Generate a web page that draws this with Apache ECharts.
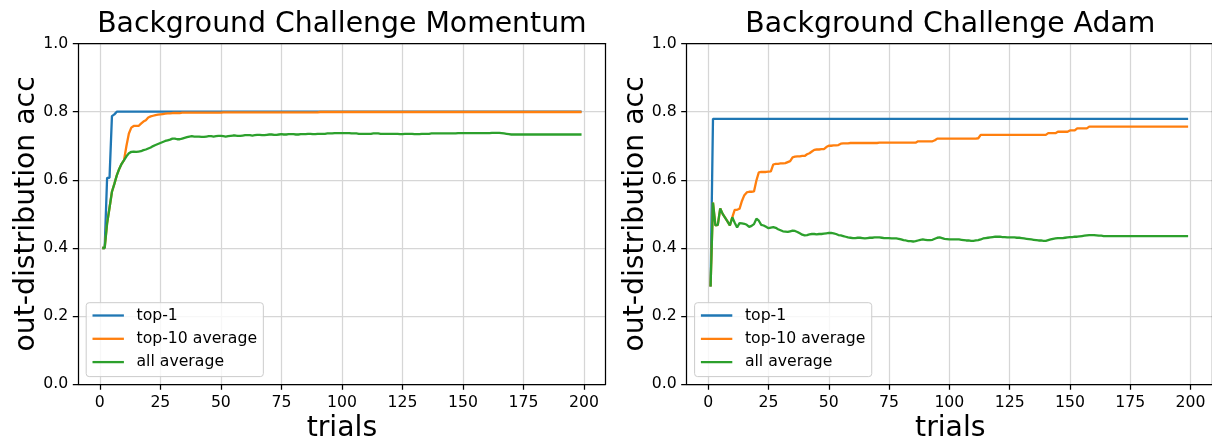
<!DOCTYPE html>
<html>
<head>
<meta charset="utf-8">
<script src="https://cdn.jsdelivr.net/npm/echarts@6/dist/echarts.min.js"></script>
<style>
  html, body { margin: 0; padding: 0; background: #ffffff; }
  #chart { width: 1212px; height: 440px; }
</style>
</head>
<body>
<div id="chart"></div>
<script>
// Trial numbers (x) shared by every curve
const trials = Array.from({ length: 199 }, (_, i) => i + 1);

// Tick values
const xTicks = [0, 25, 50, 75, 100, 125, 150, 175, 200];
const yTicks = [0, 0.2, 0.4, 0.6, 0.8, 1.0];

const seriesNames = ['top-1', 'top-10 average', 'all average'];
const panelTitles = ['Background Challenge Momentum', 'Background Challenge Adam'];

// ---- Momentum ----
const momentumTop1 = [
  0.400, 0.400, 0.606, 0.606, 0.787, 0.792, 0.800, 0.800, 0.800, 0.800,
  0.800, 0.800, 0.800, 0.800, 0.800, 0.800, 0.800, 0.800, 0.800, 0.800,
  0.800, 0.800, 0.800, 0.800, 0.800, 0.800, 0.800, 0.800, 0.800, 0.800,
  0.800, 0.800, 0.800, 0.800, 0.800, 0.800, 0.800, 0.800, 0.800, 0.800,
  0.800, 0.800, 0.800, 0.800, 0.800, 0.800, 0.800, 0.800, 0.800, 0.800,
  0.800, 0.800, 0.800, 0.800, 0.800, 0.800, 0.800, 0.800, 0.800, 0.800,
  0.800, 0.800, 0.800, 0.800, 0.800, 0.800, 0.800, 0.800, 0.800, 0.800,
  0.800, 0.800, 0.800, 0.800, 0.800, 0.800, 0.800, 0.800, 0.800, 0.800,
  0.800, 0.800, 0.800, 0.800, 0.800, 0.800, 0.800, 0.800, 0.800, 0.800,
  0.800, 0.800, 0.800, 0.800, 0.800, 0.800, 0.800, 0.800, 0.800, 0.800,
  0.800, 0.800, 0.800, 0.800, 0.800, 0.800, 0.800, 0.800, 0.800, 0.800,
  0.800, 0.800, 0.800, 0.800, 0.800, 0.800, 0.800, 0.800, 0.800, 0.800,
  0.800, 0.800, 0.800, 0.800, 0.800, 0.800, 0.800, 0.800, 0.800, 0.800,
  0.800, 0.800, 0.800, 0.800, 0.800, 0.800, 0.800, 0.800, 0.800, 0.800,
  0.800, 0.800, 0.800, 0.800, 0.800, 0.800, 0.800, 0.800, 0.800, 0.800,
  0.800, 0.800, 0.800, 0.800, 0.800, 0.800, 0.800, 0.800, 0.800, 0.800,
  0.800, 0.800, 0.800, 0.800, 0.800, 0.800, 0.800, 0.800, 0.800, 0.800,
  0.800, 0.800, 0.800, 0.800, 0.800, 0.800, 0.800, 0.800, 0.800, 0.800,
  0.800, 0.800, 0.800, 0.800, 0.800, 0.800, 0.800, 0.800, 0.800, 0.800,
  0.800, 0.800, 0.800, 0.800, 0.800, 0.800, 0.800, 0.800, 0.800
];
const momentumTop10 = [
  0.400, 0.400, 0.472, 0.518, 0.565, 0.588, 0.613, 0.632, 0.647, 0.658,
  0.700, 0.736, 0.753, 0.758, 0.758, 0.758, 0.765, 0.771, 0.775, 0.783,
  0.786, 0.788, 0.790, 0.791, 0.792, 0.793, 0.794, 0.795, 0.795, 0.796,
  0.796, 0.796, 0.796, 0.797, 0.797, 0.797, 0.797, 0.797, 0.797, 0.797,
  0.797, 0.797, 0.797, 0.797, 0.797, 0.797, 0.797, 0.797, 0.797, 0.797,
  0.798, 0.798, 0.798, 0.798, 0.798, 0.798, 0.798, 0.798, 0.798, 0.798,
  0.798, 0.798, 0.798, 0.798, 0.798, 0.798, 0.798, 0.798, 0.798, 0.798,
  0.798, 0.798, 0.798, 0.798, 0.798, 0.798, 0.798, 0.798, 0.798, 0.798,
  0.798, 0.798, 0.798, 0.798, 0.798, 0.798, 0.798, 0.798, 0.798, 0.798,
  0.799, 0.799, 0.799, 0.799, 0.799, 0.799, 0.799, 0.799, 0.799, 0.799,
  0.799, 0.799, 0.799, 0.799, 0.799, 0.799, 0.799, 0.799, 0.799, 0.799,
  0.799, 0.799, 0.799, 0.799, 0.799, 0.799, 0.799, 0.799, 0.799, 0.799,
  0.799, 0.799, 0.799, 0.799, 0.799, 0.799, 0.799, 0.799, 0.799, 0.799,
  0.799, 0.799, 0.799, 0.799, 0.799, 0.799, 0.799, 0.799, 0.799, 0.799,
  0.799, 0.799, 0.799, 0.799, 0.799, 0.799, 0.799, 0.799, 0.799, 0.799,
  0.799, 0.799, 0.799, 0.799, 0.799, 0.799, 0.799, 0.799, 0.799, 0.799,
  0.799, 0.799, 0.799, 0.799, 0.799, 0.799, 0.799, 0.799, 0.799, 0.799,
  0.799, 0.799, 0.799, 0.799, 0.799, 0.799, 0.799, 0.799, 0.799, 0.799,
  0.799, 0.799, 0.799, 0.799, 0.799, 0.799, 0.799, 0.799, 0.799, 0.799,
  0.799, 0.799, 0.799, 0.799, 0.799, 0.799, 0.799, 0.799, 0.799
];
const momentumAll = [
  0.400, 0.400, 0.472, 0.518, 0.565, 0.588, 0.613, 0.632, 0.647, 0.658,
  0.669, 0.678, 0.682, 0.683, 0.682, 0.683, 0.684, 0.687, 0.689, 0.692,
  0.695, 0.699, 0.702, 0.705, 0.708, 0.711, 0.714, 0.716, 0.718, 0.721,
  0.721, 0.719, 0.719, 0.721, 0.723, 0.725, 0.727, 0.728, 0.727, 0.727,
  0.727, 0.726, 0.726, 0.727, 0.728, 0.728, 0.727, 0.728, 0.729, 0.729,
  0.728, 0.727, 0.728, 0.729, 0.730, 0.730, 0.729, 0.729, 0.730, 0.731,
  0.731, 0.731, 0.730, 0.731, 0.732, 0.732, 0.731, 0.731, 0.732, 0.733,
  0.733, 0.732, 0.732, 0.733, 0.734, 0.733, 0.733, 0.734, 0.734, 0.734,
  0.733, 0.733, 0.734, 0.734, 0.734, 0.735, 0.735, 0.734, 0.734, 0.735,
  0.735, 0.735, 0.735, 0.736, 0.736, 0.736, 0.737, 0.737, 0.737, 0.737,
  0.737, 0.737, 0.737, 0.736, 0.736, 0.736, 0.735, 0.735, 0.735, 0.735,
  0.735, 0.735, 0.736, 0.736, 0.736, 0.735, 0.735, 0.735, 0.735, 0.735,
  0.735, 0.735, 0.735, 0.734, 0.734, 0.735, 0.735, 0.735, 0.735, 0.734,
  0.734, 0.734, 0.735, 0.735, 0.735, 0.735, 0.736, 0.736, 0.736, 0.736,
  0.736, 0.736, 0.736, 0.736, 0.736, 0.736, 0.736, 0.737, 0.737, 0.737,
  0.737, 0.737, 0.737, 0.737, 0.737, 0.737, 0.737, 0.737, 0.737, 0.737,
  0.737, 0.738, 0.738, 0.738, 0.738, 0.737, 0.736, 0.735, 0.734, 0.733,
  0.733, 0.733, 0.733, 0.733, 0.733, 0.733, 0.733, 0.733, 0.733, 0.733,
  0.733, 0.733, 0.733, 0.733, 0.733, 0.733, 0.733, 0.733, 0.733, 0.733,
  0.733, 0.733, 0.733, 0.733, 0.733, 0.733, 0.733, 0.733, 0.733
];

// ---- Adam ----
const adamTop1 = [
  0.287, 0.779, 0.779, 0.779, 0.779, 0.779, 0.779, 0.779, 0.779, 0.779,
  0.779, 0.779, 0.779, 0.779, 0.779, 0.779, 0.779, 0.779, 0.779, 0.779,
  0.779, 0.779, 0.779, 0.779, 0.779, 0.779, 0.779, 0.779, 0.779, 0.779,
  0.779, 0.779, 0.779, 0.779, 0.779, 0.779, 0.779, 0.779, 0.779, 0.779,
  0.779, 0.779, 0.779, 0.779, 0.779, 0.779, 0.779, 0.779, 0.779, 0.779,
  0.779, 0.779, 0.779, 0.779, 0.779, 0.779, 0.779, 0.779, 0.779, 0.779,
  0.779, 0.779, 0.779, 0.779, 0.779, 0.779, 0.779, 0.779, 0.779, 0.779,
  0.779, 0.779, 0.779, 0.779, 0.779, 0.779, 0.779, 0.779, 0.779, 0.779,
  0.779, 0.779, 0.779, 0.779, 0.779, 0.779, 0.779, 0.779, 0.779, 0.779,
  0.779, 0.779, 0.779, 0.779, 0.779, 0.779, 0.779, 0.779, 0.779, 0.779,
  0.779, 0.779, 0.779, 0.779, 0.779, 0.779, 0.779, 0.779, 0.779, 0.779,
  0.779, 0.779, 0.779, 0.779, 0.779, 0.779, 0.779, 0.779, 0.779, 0.779,
  0.779, 0.779, 0.779, 0.779, 0.779, 0.779, 0.779, 0.779, 0.779, 0.779,
  0.779, 0.779, 0.779, 0.779, 0.779, 0.779, 0.779, 0.779, 0.779, 0.779,
  0.779, 0.779, 0.779, 0.779, 0.779, 0.779, 0.779, 0.779, 0.779, 0.779,
  0.779, 0.779, 0.779, 0.779, 0.779, 0.779, 0.779, 0.779, 0.779, 0.779,
  0.779, 0.779, 0.779, 0.779, 0.779, 0.779, 0.779, 0.779, 0.779, 0.779,
  0.779, 0.779, 0.779, 0.779, 0.779, 0.779, 0.779, 0.779, 0.779, 0.779,
  0.779, 0.779, 0.779, 0.779, 0.779, 0.779, 0.779, 0.779, 0.779, 0.779,
  0.779, 0.779, 0.779, 0.779, 0.779, 0.779, 0.779, 0.779, 0.779
];
const adamTop10 = [
  0.287, 0.533, 0.466, 0.468, 0.516, 0.500, 0.489, 0.478, 0.466, 0.490,
  0.512, 0.512, 0.515, 0.538, 0.555, 0.563, 0.565, 0.565, 0.566, 0.598,
  0.622, 0.623, 0.623, 0.623, 0.624, 0.625, 0.645, 0.647, 0.647, 0.648,
  0.648, 0.649, 0.652, 0.655, 0.666, 0.668, 0.669, 0.669, 0.670, 0.670,
  0.675, 0.678, 0.683, 0.688, 0.689, 0.689, 0.690, 0.690, 0.696, 0.700,
  0.700, 0.701, 0.701, 0.702, 0.706, 0.707, 0.707, 0.707, 0.708, 0.708,
  0.708, 0.708, 0.708, 0.708, 0.708, 0.708, 0.708, 0.708, 0.708, 0.708,
  0.709, 0.709, 0.709, 0.709, 0.709, 0.709, 0.709, 0.709, 0.709, 0.709,
  0.709, 0.709, 0.709, 0.709, 0.709, 0.709, 0.713, 0.713, 0.713, 0.713,
  0.713, 0.713, 0.713, 0.716, 0.721, 0.721, 0.721, 0.721, 0.721, 0.721,
  0.721, 0.721, 0.721, 0.721, 0.721, 0.721, 0.721, 0.721, 0.721, 0.721,
  0.721, 0.722, 0.732, 0.732, 0.732, 0.732, 0.732, 0.732, 0.732, 0.732,
  0.732, 0.732, 0.732, 0.732, 0.732, 0.732, 0.732, 0.732, 0.732, 0.732,
  0.732, 0.732, 0.732, 0.732, 0.732, 0.732, 0.732, 0.732, 0.732, 0.732,
  0.737, 0.737, 0.737, 0.737, 0.741, 0.741, 0.741, 0.741, 0.741, 0.745,
  0.745, 0.745, 0.751, 0.751, 0.751, 0.751, 0.751, 0.756, 0.756, 0.756,
  0.756, 0.756, 0.756, 0.756, 0.756, 0.756, 0.756, 0.756, 0.756, 0.756,
  0.756, 0.756, 0.756, 0.756, 0.756, 0.756, 0.756, 0.756, 0.756, 0.756,
  0.756, 0.756, 0.756, 0.756, 0.756, 0.756, 0.756, 0.756, 0.756, 0.756,
  0.756, 0.756, 0.756, 0.756, 0.756, 0.756, 0.756, 0.756, 0.756
];
const adamAll = [
  0.287, 0.533, 0.466, 0.468, 0.516, 0.500, 0.489, 0.478, 0.466, 0.490,
  0.474, 0.460, 0.473, 0.472, 0.471, 0.468, 0.462, 0.465, 0.470, 0.486,
  0.480, 0.468, 0.466, 0.462, 0.458, 0.460, 0.461, 0.459, 0.455, 0.452,
  0.449, 0.448, 0.447, 0.449, 0.451, 0.450, 0.447, 0.443, 0.439, 0.437,
  0.438, 0.440, 0.441, 0.441, 0.440, 0.441, 0.441, 0.442, 0.443, 0.444,
  0.444, 0.443, 0.441, 0.438, 0.437, 0.435, 0.433, 0.431, 0.430, 0.429,
  0.429, 0.430, 0.430, 0.429, 0.428, 0.429, 0.430, 0.430, 0.431, 0.431,
  0.431, 0.430, 0.429, 0.429, 0.429, 0.428, 0.428, 0.428, 0.427, 0.425,
  0.423, 0.422, 0.420, 0.420, 0.419, 0.420, 0.422, 0.424, 0.425, 0.424,
  0.423, 0.423, 0.424, 0.427, 0.430, 0.431, 0.429, 0.427, 0.426, 0.425,
  0.425, 0.425, 0.425, 0.425, 0.424, 0.423, 0.422, 0.422, 0.421, 0.421,
  0.422, 0.423, 0.425, 0.428, 0.429, 0.430, 0.431, 0.432, 0.433, 0.433,
  0.433, 0.432, 0.432, 0.431, 0.431, 0.431, 0.431, 0.430, 0.430, 0.429,
  0.428, 0.427, 0.426, 0.425, 0.424, 0.423, 0.422, 0.422, 0.421, 0.421,
  0.423, 0.425, 0.427, 0.428, 0.429, 0.429, 0.429, 0.430, 0.431, 0.432,
  0.432, 0.433, 0.433, 0.434, 0.435, 0.436, 0.437, 0.438, 0.438, 0.438,
  0.437, 0.436, 0.436, 0.435, 0.435, 0.435, 0.435, 0.435, 0.435, 0.435,
  0.435, 0.435, 0.435, 0.435, 0.435, 0.435, 0.435, 0.435, 0.435, 0.435,
  0.435, 0.435, 0.435, 0.435, 0.435, 0.435, 0.435, 0.435, 0.435, 0.435,
  0.435, 0.435, 0.435, 0.435, 0.435, 0.435, 0.435, 0.435, 0.435
];

const panels = [
  [momentumTop1, momentumTop10, momentumAll],
  [adamTop1, adamTop10, adamAll]
];

const colors = ['#1f77b4', '#ff7f0e', '#2ca02c'];
const FONT = 'DejaVu Sans';
const TICK_FONT = 15.7;
const LABEL_FONT = 28.3;
const X_MIN = -8.9, X_MAX = 208.9;

// Axes boxes in pixels
const plotTop = 43.5, plotH = 340.8, plotW = 527.2;
const plotLefts = [78.3, 686.7];

const grids = [], xAxes = [], yAxes = [], series = [], legends = [], graphics = [];

plotLefts.forEach((left, g) => {
  grids.push({ left: left, top: plotTop, width: plotW, height: plotH, containLabel: false });

  const xBase = xAxes.length;
  const yBase = yAxes.length;

  // main x axis: ticks, labels, vertical grid lines
  xAxes.push({
    gridIndex: g, type: 'value', position: 'bottom', min: X_MIN, max: X_MAX, z: 0,
    axisLine: { show: false, onZero: false },
    axisTick: { show: true, customValues: xTicks, length: 5.5, lineStyle: { color: '#000', width: 1.25 } },
    axisLabel: { show: true, customValues: xTicks, margin: 10.5, fontSize: TICK_FONT, fontFamily: FONT, color: '#000' },
    splitLine: { show: true, lineStyle: { color: '#d6d6d6', width: 1.25 } }
  });
  // bottom and top spines
  ['bottom', 'top'].forEach(pos => {
    xAxes.push({
      gridIndex: g, type: 'value', position: pos, min: X_MIN, max: X_MAX, z: 5,
      axisLine: { show: true, onZero: false, lineStyle: { color: '#000', width: 1.25 } },
      axisTick: { show: false }, axisLabel: { show: false }, splitLine: { show: false }
    });
  });

  // main y axis: ticks, labels, horizontal grid lines
  yAxes.push({
    gridIndex: g, type: 'value', position: 'left', min: yTicks[0], max: yTicks[yTicks.length - 1], interval: 0.2, z: 0,
    axisLine: { show: false, onZero: false },
    axisTick: { show: true, length: 5.5, lineStyle: { color: '#000', width: 1.25 } },
    axisLabel: { show: true, margin: 10, fontSize: TICK_FONT, fontFamily: FONT, color: '#000',
                 formatter: v => v.toFixed(1) },
    splitLine: { show: true, lineStyle: { color: '#d6d6d6', width: 1.25 } }
  });
  // left and right spines
  ['left', 'right'].forEach(pos => {
    yAxes.push({
      gridIndex: g, type: 'value', position: pos, min: 0, max: 1, z: 5,
      axisLine: { show: true, onZero: false, lineStyle: { color: '#000', width: 1.25 } },
      axisTick: { show: false }, axisLabel: { show: false }, splitLine: { show: false }
    });
  });

  panels[g].forEach((vals, k) => {
    series.push({
      name: seriesNames[k], type: 'line',
      xAxisIndex: xBase, yAxisIndex: yBase,
      data: trials.map((t, i) => [t, vals[i]]),
      showSymbol: false, symbol: 'none',
      lineStyle: { color: colors[k], width: 2.3 },
      itemStyle: { color: colors[k] },
      emphasis: { disabled: true },
      animation: false
    });
  });

  legends.push({
    data: seriesNames, orient: 'vertical',
    left: left + 7.9, top: 302.7,
    icon: 'rect', itemWidth: 31.4, itemHeight: 2.3, itemGap: 5.3,
    padding: [3.8, 6.3, 5.5, 6.3],
    backgroundColor: 'rgba(255,255,255,0.8)',
    borderColor: '#cccccc', borderWidth: 1, borderRadius: 3,
    selectedMode: false,
    textStyle: { fontSize: TICK_FONT, fontFamily: FONT, color: '#000', lineHeight: 18, padding: [0, 0, 0, 7.6] }
  });

  const cx = left + plotW / 2;
  const labelFont = LABEL_FONT + 'px "' + FONT + '"';
  // panel title
  graphics.push({
    type: 'text', x: cx, y: 25,
    style: { text: panelTitles[g], fill: '#000', font: labelFont, align: 'center', verticalAlign: 'middle' }
  });
  // x axis title
  graphics.push({
    type: 'text', x: cx, y: 428.5,
    style: { text: 'trials', fill: '#000', font: labelFont, align: 'center', verticalAlign: 'middle' }
  });
  // y axis title
  graphics.push({
    type: 'text', x: left - 51.3, y: plotTop + plotH / 2, rotation: Math.PI / 2,
    style: { text: 'out-distribution acc', fill: '#000', font: labelFont, align: 'center', verticalAlign: 'middle' }
  });
});

const chart = echarts.init(document.getElementById('chart'), null, { renderer: 'canvas' });
chart.setOption({
  animation: false,
  backgroundColor: '#ffffff',
  grid: grids,
  xAxis: xAxes,
  yAxis: yAxes,
  legend: legends,
  series: series,
  graphic: graphics
});
</script>
</body>
</html>
